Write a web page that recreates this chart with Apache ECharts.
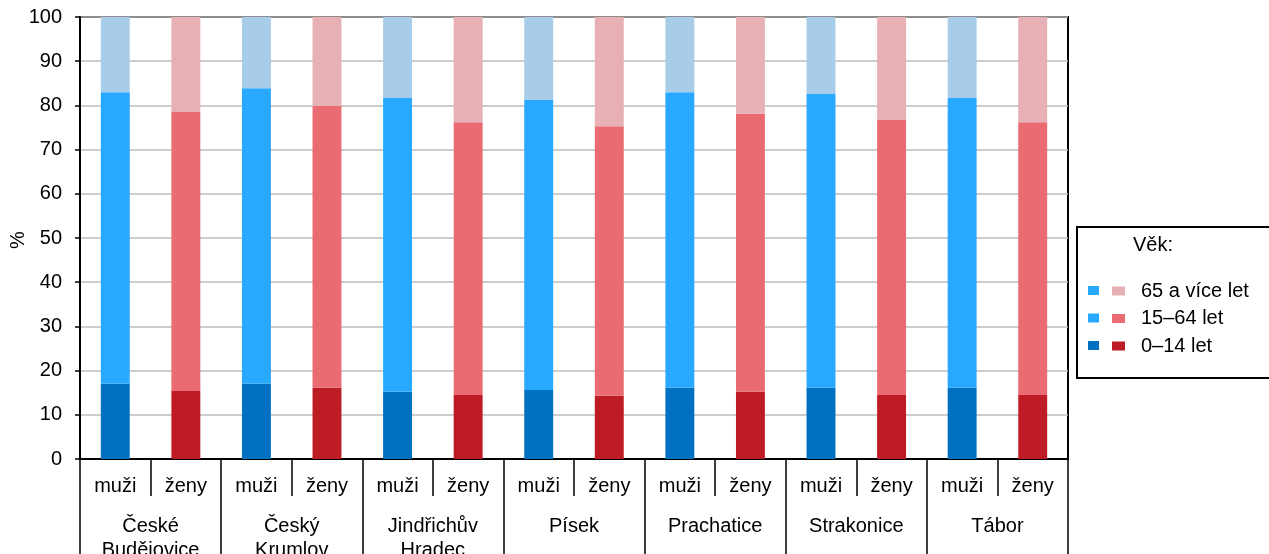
<!DOCTYPE html>
<html><head><meta charset="utf-8">
<script src="https://cdn.jsdelivr.net/npm/echarts@6/dist/echarts.min.js"></script>
<style>html,body{margin:0;padding:0;background:#fff}#c{width:1269px;height:554px}</style>
</head><body><div id="c"></div>
<script>
const districts = ['České\nBudějovice','Český\nKrumlov','Jindřichův\nHradec','Písek','Prachatice','Strakonice','Tábor'];
const sexes = ['muži','ženy'];
const ageLabels = ['65 a více let','15–64 let','0–14 let'];
// values per district (%)
const menAge0_14   = [17.0, 17.0, 15.2, 15.6, 16.1, 16.1, 16.1];
const menAge15_64  = [66.0, 66.9, 66.5, 65.6, 66.9, 66.5, 65.6];
const menAge65     = [17.0, 16.1, 18.3, 18.8, 17.0, 17.4, 18.3];
const womenAge0_14 = [15.4, 16.1, 14.5, 14.3, 15.2, 14.5, 14.5];
const womenAge15_64= [63.1, 63.8, 61.7, 61.0, 62.9, 62.2, 61.7];
const womenAge65   = [21.5, 20.1, 23.8, 24.7, 21.9, 23.3, 23.8];
const yTicks = [0,10,20,30,40,50,60,70,80,90,100];

const cats = [];
districts.forEach(() => sexes.forEach(s => cats.push(s)));
function spread(arr, idx){ const out=[]; arr.forEach(v=>{ for(let k=0;k<2;k++) out.push(k===idx? v : '-'); }); return out; }

const menColors = ['#0070C0','#29A8FF','#A8CDE8'];
const womenColors = ['#BE1C24','#EA6B72','#E6B0B4'];
const F = 'Liberation Sans, Arial, sans-serif';
const FS = 20;

const series = [
  {name:'m0', data: spread(menAge0_14,0), color: menColors[0]},
  {name:'m1', data: spread(menAge15_64,0), color: menColors[1]},
  {name:'m2', data: spread(menAge65,0), color: menColors[2]},
  {name:ageLabels[2], data: spread(womenAge0_14,1), color: womenColors[0]},
  {name:ageLabels[1], data: spread(womenAge15_64,1), color: womenColors[1]},
  {name:ageLabels[0], data: spread(womenAge65,1), color: womenColors[2]}
].map(s => ({type:'bar', stack:'t', name:s.name, data:s.data, barWidth:'41%', itemStyle:{color:s.color}}));

const chart = echarts.init(document.getElementById('c'));
chart.setOption({
  animation:false,
  textStyle:{fontFamily:F},
  grid:{left:80,right:201,top:17,bottom:95,outerBoundsMode:'none',containLabel:false,show:true,borderColor:'#000',borderWidth:2,backgroundColor:'transparent'},
  xAxis:[
    {type:'category', data:cats, position:'bottom',
     axisLine:{lineStyle:{color:'#000',width:2}},
     axisTick:{show:true,length:37,interval:0,lineStyle:{color:'#000',width:1.5}},
     axisLabel:{interval:0,color:'#000',fontSize:FS,margin:17,fontFamily:F}},
    {type:'category', data:districts, position:'bottom',
     axisLine:{show:false},
     axisTick:{show:true,length:120,interval:0,lineStyle:{color:'#000',width:1.5}},
     axisLabel:{interval:0,color:'#000',fontSize:FS,margin:55,lineHeight:24,fontFamily:F}}
  ],
  yAxis:{type:'value',min:0,max:100,interval:10,
    axisLine:{show:true,lineStyle:{color:'#000',width:2}},
    axisTick:{show:true,length:5,lineStyle:{color:'#000',width:1.5}},
    axisLabel:{color:'#000',fontSize:FS,margin:18,fontFamily:F,formatter:v=>yTicks.includes(v)?String(v):''},
    splitLine:{lineStyle:{color:'#BDBDBD',width:1.5}}},
  legend:[
    {data:[{name:'m2',itemStyle:{color:menColors[1]}},'m1','m0'], orient:'vertical', left:1083, top:281, itemWidth:11, itemHeight:9, itemGap:18.5,
     icon:'rect', formatter:()=>'', textStyle:{fontSize:1}, selectedMode:false},
    {data:ageLabels, orient:'vertical', left:1107, top:276, itemWidth:13, itemHeight:9, itemGap:7.5,
     icon:'rect', selectedMode:false, textStyle:{color:'#000',fontSize:FS,fontFamily:F,padding:[0,0,0,11]}}
  ],
  graphic:[
    {type:'rect', shape:{x:1077,y:227,width:220,height:151}, style:{fill:'none',stroke:'#000',lineWidth:2}},
    {type:'text', left:1133, top:235, style:{text:'Věk:',fill:'#000',font:FS+'px '+F}},
    {type:'text', x:18, y:240, rotation:Math.PI/2, style:{text:'%',fill:'#000',font:FS+'px '+F,align:'center',verticalAlign:'middle'}}
  ],
  series: series
});
</script></body></html>
